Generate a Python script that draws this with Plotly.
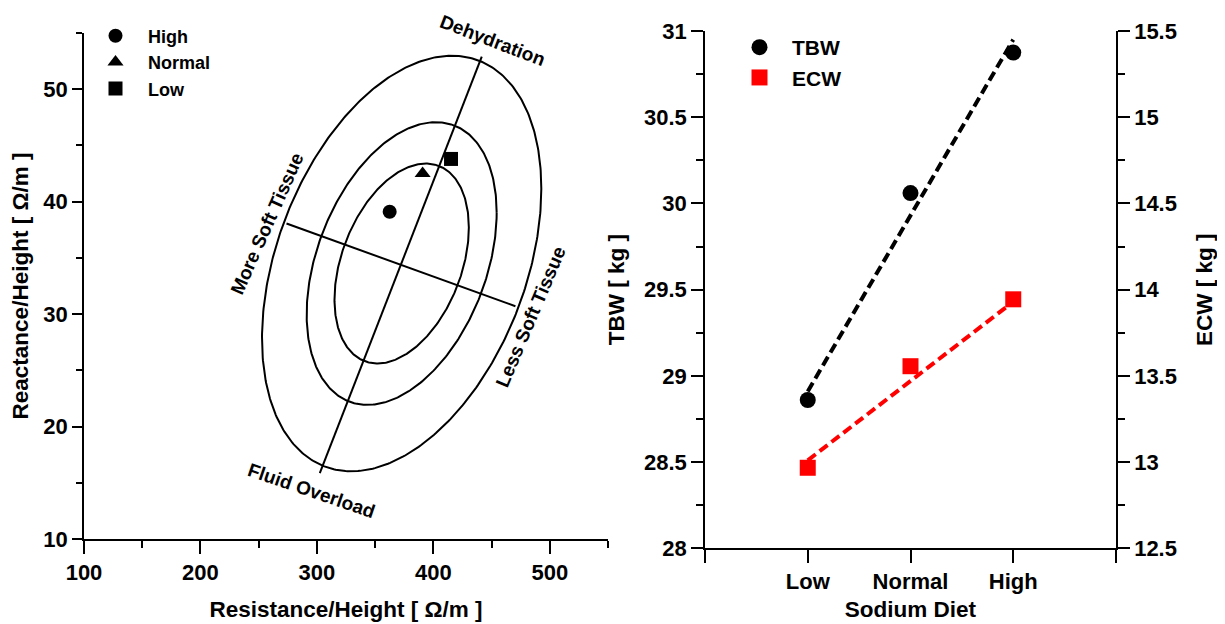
import numpy as np
import plotly.graph_objects as go

# ---------------- Left panel: RXc graph ----------------
diet_groups = ["High", "Normal", "Low"]
diet_symbols = ["circle", "triangle-up", "square"]
resistance_h = [362.5, 390.8, 415.2]   # R/H  [Ohm/m]
reactance_h = [39.1, 42.5, 43.8]       # Xc/H [Ohm/m]

# reference population (tolerance ellipses)
ref_mean_R = 372.8
ref_mean_Xc = 34.5
ref_sd_R = 49.0
ref_sd_Xc = 7.55
ref_corr = 0.36
tolerance_levels = [0.50, 0.75, 0.95]

# principal axes of the ellipses (end points)
hydration_axis_R = [302.5, 441.6]
hydration_axis_Xc = [15.85, 52.9]
tissue_axis_R = [273.9, 470.5]
tissue_axis_Xc = [38.06, 30.7]

region_labels = ["Dehydration", "More Soft Tissue", "Less Soft Tissue", "Fluid Overload"]
region_label_R = [450.8, 257.0, 483.7, 295.0]
region_label_Xc = [54.3, 38.1, 29.8, 14.3]
region_label_angle = [21, -66, -67, 19]

# ---------------- Right panel: body water ----------------
sodium_diet = ["Low", "Normal", "High"]
tbw_kg = [28.86, 30.06, 30.875]
ecw_kg = [12.967, 13.556, 13.944]
trend_diet = ["Low", "High"]
tbw_trend = [28.91, 30.95]
ecw_trend = [13.01, 13.93]

FONT = "Liberation Sans, Arial, sans-serif"

fig = go.Figure()

# tolerance ellipses
t = np.linspace(0, 2 * np.pi, 400)
for p in tolerance_levels:
    c = np.sqrt(-2 * np.log(1 - p))
    z1 = c * np.cos(t)
    z2 = c * (ref_corr * np.cos(t) + np.sqrt(1 - ref_corr ** 2) * np.sin(t))
    fig.add_trace(go.Scatter(
        x=ref_mean_R + ref_sd_R * z1, y=ref_mean_Xc + ref_sd_Xc * z2,
        mode="lines", line=dict(color="black", width=2),
        showlegend=False, hoverinfo="skip", xaxis="x", yaxis="y"))

for ax_R, ax_X in [(hydration_axis_R, hydration_axis_Xc), (tissue_axis_R, tissue_axis_Xc)]:
    fig.add_trace(go.Scatter(
        x=ax_R, y=ax_X, mode="lines", line=dict(color="black", width=2),
        showlegend=False, hoverinfo="skip", xaxis="x", yaxis="y"))

for g, s, r, x in zip(diet_groups, diet_symbols, resistance_h, reactance_h):
    fig.add_trace(go.Scatter(
        x=[r], y=[x], mode="markers", name=g,
        marker=dict(symbol=s, color="black", size=14 if s != "triangle-up" else 14),
        xaxis="x", yaxis="y", legend="legend"))

for txt, r, x, a in zip(region_labels, region_label_R, region_label_Xc, region_label_angle):
    fig.add_annotation(x=r, y=x, xref="x", yref="y", text=txt, textangle=a,
                       showarrow=False,
                       font=dict(family=FONT, size=19, color="black", weight="bold"))

# right panel
fig.add_trace(go.Scatter(
    x=trend_diet, y=tbw_trend, mode="lines",
    line=dict(color="black", width=4, dash="10px,5px"),
    showlegend=False, hoverinfo="skip", xaxis="x2", yaxis="y2"))
fig.add_trace(go.Scatter(
    x=trend_diet, y=ecw_trend, mode="lines",
    line=dict(color="red", width=4, dash="10px,5px"),
    showlegend=False, hoverinfo="skip", xaxis="x2", yaxis="y3"))
fig.add_trace(go.Scatter(
    x=sodium_diet, y=tbw_kg, mode="markers", name="TBW",
    marker=dict(symbol="circle", color="black", size=16),
    xaxis="x2", yaxis="y2", legend="legend2"))
fig.add_trace(go.Scatter(
    x=sodium_diet, y=ecw_kg, mode="markers", name="ECW",
    marker=dict(symbol="square", color="red", size=16),
    xaxis="x2", yaxis="y3", legend="legend2"))

W, H = 1225, 624
OFF = 8  # page offset of the figure inside the browser body
tickfont = dict(family=FONT, size=22, color="black", weight="bold")
titlefont = dict(family=FONT, size=22.5, color="black", weight="bold")
common = dict(showgrid=False, zeroline=False, showline=True, linecolor="black",
              linewidth=1.5, ticks="outside", tickcolor="black", tickwidth=1.5,
              tickfont=tickfont, automargin=False)


def xd(a, b):
    return [(a - OFF) / W, (b - OFF) / W]


def yd(top, bottom):
    return [1 - (bottom - OFF) / H, 1 - (top - OFF) / H]


fig.update_layout(
    template="none",
    width=W, height=H, margin=dict(l=0, r=0, t=0, b=0, pad=0),
    paper_bgcolor="white", plot_bgcolor="white",
    xaxis=dict(domain=xd(84, 608), range=[100, 550], anchor="y",
               tick0=100, dtick=100, ticklen=13,
               minor=dict(ticks="outside", ticklen=7, tick0=150, dtick=100,
                          tickcolor="black", tickwidth=1.5, showgrid=False),
               title=dict(text="Resistance/Height [ Ω/m ]", font=titlefont, standoff=17),
               **common),
    yaxis=dict(domain=yd(33, 539), range=[10, 55], anchor="x",
               tick0=10, dtick=10, ticklen=10,
               minor=dict(ticks="outside", ticklen=6, tick0=15, dtick=10,
                          tickcolor="black", tickwidth=1.5, showgrid=False),
               title=dict(text="Reactance/Height [ Ω/m ]", font=titlefont, standoff=13),
               **common),
    xaxis2=dict(domain=xd(705, 1116), range=[-1, 3], anchor="y2",
                type="category", categoryorder="array", categoryarray=sodium_diet,
                tickvals=[-1, 0, 1, 2, 3], ticktext=["", "Low", "Normal", "High", ""],
                ticklen=13,
                title=dict(text="Sodium Diet", font=titlefont, standoff=8),
                **common),
    yaxis2=dict(domain=yd(31, 548.3), range=[28, 31], anchor="x2",
                tick0=28, dtick=0.5, ticklen=12,
                minor=dict(ticks="outside", ticklen=7, tick0=28.25, dtick=0.5,
                           tickcolor="black", tickwidth=1.5, showgrid=False),
                title=dict(text="TBW [ kg ]", font=titlefont, standoff=13),
                **common),
    yaxis3=dict(range=[12.5, 15.5], overlaying="y2", side="right", anchor="x2",
                tick0=12.5, dtick=0.5, ticklen=12,
                minor=dict(ticks="outside", ticklen=7, tick0=12.75, dtick=0.5,
                           tickcolor="black", tickwidth=1.5, showgrid=False),
                title=dict(text="ECW [ kg ]", font=titlefont, standoff=20),
                **common),
    legend=dict(x=75 / W, y=1 - 9.5 / H, xanchor="left", yanchor="top",
                bgcolor="rgba(0,0,0,0)", itemwidth=55, tracegroupgap=0,
                font=dict(family=FONT, size=18, color="black", weight="bold")),
    legend2=dict(x=719 / W, y=1 - 19 / H, xanchor="left", yanchor="top",
                 bgcolor="rgba(0,0,0,0)", itemwidth=55, tracegroupgap=0,
                 font=dict(family=FONT, size=21, color="black", weight="bold")),
)

fig.write_html("out.html")
